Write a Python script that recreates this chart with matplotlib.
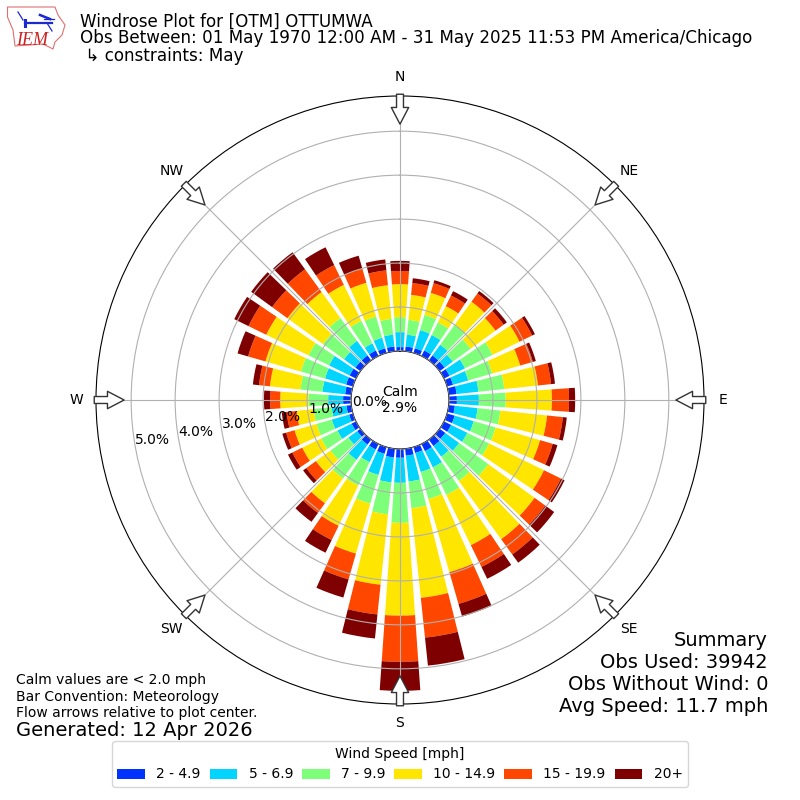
import numpy as np
import matplotlib
matplotlib.use("Agg")
import matplotlib.pyplot as plt
from matplotlib.patches import Polygon

directions = list(range(0, 360, 10))
bins = ["2 - 4.9", "5 - 6.9", "7 - 9.9", "10 - 14.9", "15 - 19.9", "20+"]
colors = ["#0033ff", "#00d4ff", "#7dff7a", "#ffe600", "#ff4700", "#7f0000"]
s2_5 = [.09,.11,.11,.14,.14,.14,.14,.14,.18,.18,.14,.18,.18,.16,.18,.18,.14,.16,.20,.20,.16,.14,.14,.09,.11,.09,.11,.18,.14,.16,.16,.14,.14,.14,.11,.11]
s5_7 = [.34,.27,.43,.39,.30,.23,.39,.36,.50,.50,.52,.45,.41,.39,.30,.41,.45,.59,.57,.57,.50,.32,.43,.25,.36,.41,.34,.34,.52,.50,.52,.32,.41,.18,.25,.27]
s7_10 = [.34,.34,.36,.32,.57,.50,.70,.57,.59,.61,.52,.52,.55,.82,.68,.70,.64,.61,.91,.73,.68,.59,.52,.50,.41,.36,.41,.45,.50,.57,.52,.59,.64,.57,.50,.36]
s10_15 = [.75,.57,.52,.41,.64,.70,.68,.66,.77,1.05,1.07,1.05,1.39,1.30,1.64,1.27,1.73,2.05,2.11,1.61,1.18,1.02,.70,.41,.48,.52,.39,.64,.70,.84,1.07,1.00,.73,.91,.80,.77]
s15_20 = [.30,.27,.23,.27,.23,.23,.32,.30,.30,.39,.36,.30,.43,.30,.43,.55,.75,.91,1.05,.68,.61,.36,.27,.27,.25,.20,.23,.23,.25,.41,.45,.43,.64,.50,.34,.34]
s20 = [.23,.11,.07,.11,.07,.09,.07,.07,.09,.14,.09,.11,.09,.25,.23,.30,.30,.64,.66,.55,.43,.32,.25,.09,.11,.09,.11,.14,.14,.25,.36,.59,.48,.45,.30,.25]
series = [s2_5, s5_7, s7_10, s10_15, s15_20, s20]
r_ticks = [0, 1, 2, 3, 4, 5]
compass = ["N", "NE", "E", "SE", "S", "SW", "W", "NW"]
compass_deg = [0, 45, 90, 135, 180, 225, 270, 315]

fig = plt.figure(figsize=(8, 8), dpi=100)

# overlay layer in pixel units, for the logo
bg = fig.add_axes([0, 0, 1, 1], zorder=5)
bg.set_xlim(0, 800); bg.set_ylim(800, 0); bg.axis("off")
bg.patch.set_alpha(0)
outline = [(7.5,7),(55,7),(58,15),(65,25),(62,35),(55,42),(53,49),(43,44),(15,46),(13,30),(7.5,17)]
bg.add_patch(Polygon(outline, closed=True, fc="white", ec="#e07070", lw=0.8))
bg.plot([25,52], [23,23], color="#1a2ad0", lw=1.6)
bg.plot([25,25], [20,26], color="#1a2ad0", lw=2.2)
bg.plot([18,23], [12,20], color="#1a2ad0", lw=0.9)
bg.plot([40,50], [15,19], color="#1a2ad0", lw=1.8)
bg.plot([44,54], [19,19], color="#1a2ad0", lw=0.9)
bg.plot([47,52], [23,31], color="#1a2ad0", lw=0.9)
bg.text(16.5, 45, "IEM", color="#cc2222", family="Liberation Serif", style="italic", fontsize=13, va="baseline")

ax = fig.add_axes([96/800, 96/800, 608/800, 608/800], projection="polar")
ax.set_theta_zero_location("N")
ax.set_theta_direction(-1)
ax.set_rorigin(-1.114)
ax.set_rlim(0, 5.8)
theta = np.deg2rad(directions)
bottom = np.zeros(len(directions))
for vals, col, lab in zip(series, colors, bins):
    ax.bar(theta, vals, width=np.deg2rad(8), bottom=bottom, color=col, label=lab, linewidth=0)
    bottom = bottom + np.array(vals)
ax.set_axisbelow(False)
ax.grid(True, color="#b0b0b0", lw=0.8)
ax.set_xticks(np.deg2rad(compass_deg))
ax.set_xticklabels(compass, fontsize=10)
ax.tick_params(axis="x", pad=3.5)
ax.set_yticks(r_ticks)
ax.set_yticklabels([f"{v:.1f}%" for v in r_ticks], fontsize=10)
ax.set_rlabel_position(260)
ax.set_rlim(0, 5.8)
for d in compass_deg:
    ax.annotate("", xy=(np.deg2rad(d), 5.16), xytext=(np.deg2rad(d), 5.84),
                arrowprops=dict(width=5, headwidth=12.5, headlength=12, fc="white", ec="#333333", lw=1, shrink=0),
                annotation_clip=False, zorder=10)

fig.text(0.5, 0.5, "Calm\n2.9%", ha="center", va="center", fontsize=10, zorder=20)

fig.text(80/800, 1-26.5/800, "Windrose Plot for [OTM] OTTUMWA", fontsize=12.05, va="baseline")
fig.text(80/800, 1-43/800, "Obs Between: 01 May 1970 12:00 AM - 31 May 2025 11:53 PM America/Chicago", fontsize=12.05, va="baseline")
fig.text(80/800, 1-61/800, " ↳ constraints: May", fontsize=12.05, va="baseline")

for y, s in zip([646, 668, 690, 712], ["Summary", "Obs Used: 39942", "Obs Without Wind: 0", "Avg Speed: 11.7 mph"]):
    fig.text(768/800, 1-y/800, s, fontsize=14, ha="right", va="baseline")

for y, s in zip([684, 701, 717], ["Calm values are < 2.0 mph", "Bar Convention: Meteorology", "Flow arrows relative to plot center."]):
    fig.text(16/800, 1-y/800, s, fontsize=10, va="baseline")
fig.text(16/800, 1-736/800, "Generated: 12 Apr 2026", fontsize=14, va="baseline")

h, l = ax.get_legend_handles_labels()
fig.legend(h, l, title="Wind Speed [mph]", ncol=6, loc="lower center", bbox_to_anchor=(0.5, 0.0075), fontsize=10, columnspacing=0.65)

fig.savefig("out.png", dpi=100)
